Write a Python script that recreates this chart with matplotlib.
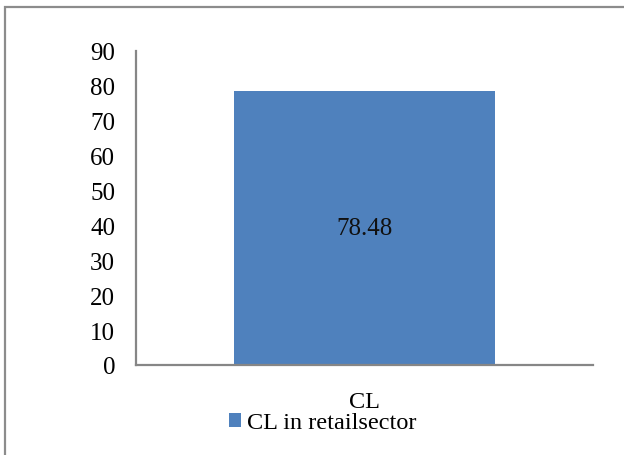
import matplotlib
matplotlib.use('Agg')
from matplotlib import pyplot as plt
from matplotlib.patches import Rectangle

categories = ['CL']
values = [78.48]
series_name = 'CL in retailsector'
yticks = [0, 10, 20, 30, 40, 50, 60, 70, 80, 90]

plt.rcParams['font.family'] = ['Liberation Serif', 'DejaVu Serif']

W, H = 624, 456
fig = plt.figure(figsize=(W / 100, H / 100), dpi=100)

# outer chart frame (right and bottom edges fall outside the image)
fig.patches.append(Rectangle((5 / W, -0.1), 1.2, 1 - 8 / H + 0.1,
                             transform=fig.transFigure, fill=False,
                             edgecolor='#8c8c8c', lw=1.6))

ax = fig.add_axes([136 / W, 1 - 366 / H, (593 - 136) / W, (366 - 52) / H])
bars = ax.bar(categories, values, width=0.571, color='#4F81BD', label=series_name)
ax.set_xlim(-0.5, 0.5)
ax.set_ylim(0, 90)
ax.set_yticks(yticks)

for rect, v in zip(bars, values):
    ax.text(rect.get_x() + rect.get_width() / 2, v / 2, f'{v:.2f}',
            ha='center', va='center', fontsize=18, color='#111111')

for side in ('top', 'right'):
    ax.spines[side].set_visible(False)
for side in ('left', 'bottom'):
    ax.spines[side].set_color('#868686')
    ax.spines[side].set_linewidth(1.6)

ax.tick_params(axis='y', length=0, pad=15, labelsize=18)
ax.tick_params(axis='x', length=0, pad=19, labelsize=17.5)

leg = fig.legend(handles=[bars], labels=[series_name], loc='center',
                 bbox_to_anchor=(323 / W, 1 - 424 / H), frameon=False,
                 fontsize=17.5, handlelength=0.5, handleheight=0.5,
                 handletextpad=0.25, borderpad=0, borderaxespad=0)

plt.savefig('out.png', dpi=100)
